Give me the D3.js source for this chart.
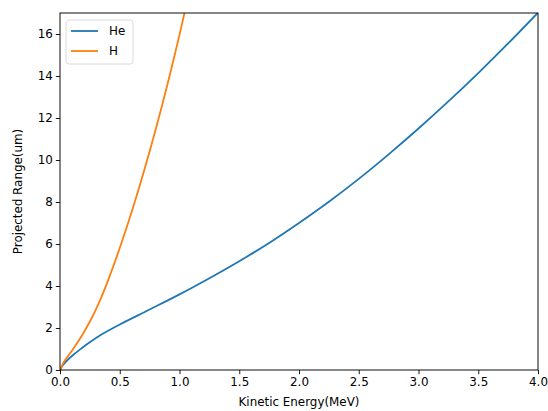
<!DOCTYPE html>
<html>
<head>
<meta charset="utf-8">
<script src="https://cdn.jsdelivr.net/npm/d3@7"></script>
<style>
  body { margin: 0; background: #fff; }
  svg { font-family: "DejaVu Sans", sans-serif; }
</style>
</head>
<body>
<div id="chart"></div>
<script>
// He curve (energy in MeV, projected range in um)
const heEnergy = [0, 0.02, 0.04, 0.08, 0.126, 0.18, 0.237, 0.35, 0.5, 0.75, 1.0, 1.25, 1.5, 1.75, 2.0, 2.25, 2.5, 2.75, 3.0, 3.25, 3.5, 3.75, 4.0];
const heRange  = [0, 0.2, 0.33, 0.57, 0.79, 1.03, 1.27, 1.7, 2.17, 2.88, 3.6, 4.37, 5.18, 6.05, 7.0, 8.01, 9.1, 10.27, 11.5, 12.79, 14.14, 15.55, 17.02];

// H curve
const hEnergy = [0, 0.04, 0.1, 0.15, 0.2, 0.25, 0.3, 0.35, 0.4, 0.5, 0.6, 0.7, 0.8, 0.9, 1.0, 1.05, 1.1];
const hRange  = [0, 0.45, 0.92, 1.34, 1.8, 2.31, 2.88, 3.52, 4.23, 5.81, 7.54, 9.42, 11.44, 13.62, 15.96, 17.21, 18.46];

const xTicks = [0, 0.5, 1.0, 1.5, 2.0, 2.5, 3.0, 3.5, 4.0];
const yTicks = [0, 2, 4, 6, 8, 10, 12, 14, 16];

const width = 548;
const height = 411;
const margin = { top: 13, right: 10, bottom: 41, left: 60 };

const svg = d3.select('#chart')
    .append('svg')
    .attr('width', width)
    .attr('height', height);

const x = d3.scaleLinear()
    .domain([0, 4])
    .range([margin.left, width - margin.right]);

const y = d3.scaleLinear()
    .domain([0, 17])
    .range([height - margin.bottom, margin.top]);

svg.append('clipPath')
    .attr('id', 'plot-clip')
    .append('rect')
    .attr('x', margin.left)
    .attr('y', margin.top)
    .attr('width', width - margin.left - margin.right)
    .attr('height', height - margin.top - margin.bottom);

const series = [
    { name: 'He', color: '#1f77b4', xs: heEnergy, ys: heRange },
    { name: 'H', color: '#ff7f0e', xs: hEnergy, ys: hRange }
];

const line = d3.line()
    .x(d => x(d[0]))
    .y(d => y(d[1]))
    .curve(d3.curveCatmullRom.alpha(0.5));

svg.append('g')
    .attr('clip-path', 'url(#plot-clip)')
    .selectAll('path')
    .data(series)
    .join('path')
    .attr('fill', 'none')
    .attr('stroke', d => d.color)
    .attr('stroke-width', 1.8)
    .attr('d', d => line(d.xs.map((v, i) => [v, d.ys[i]])));

function xAxis(g) {
    g.attr('transform', `translate(0,${height - margin.bottom})`)
        .call(d3.axisBottom(x).tickValues(xTicks).tickFormat(d3.format('.1f')).tickSize(4.2).tickPadding(3))
        .attr('font-size', '11.9px')
        .attr('font-family', '"DejaVu Sans", sans-serif');
    g.select('.domain').remove();
    g.selectAll('.tick line').attr('stroke', '#000').attr('stroke-width', 0.9);
    g.selectAll('.tick text').attr('fill', '#000');
}

function yAxis(g) {
    g.attr('transform', `translate(${margin.left},0)`)
        .call(d3.axisLeft(y).tickValues(yTicks).tickFormat(d3.format('d')).tickSize(4.2).tickPadding(3))
        .attr('font-size', '11.9px')
        .attr('font-family', '"DejaVu Sans", sans-serif');
    g.select('.domain').remove();
    g.selectAll('.tick line').attr('stroke', '#000').attr('stroke-width', 0.9);
    g.selectAll('.tick text').attr('fill', '#000');
}

svg.append('g').call(xAxis);
svg.append('g').call(yAxis);

// axes frame
svg.append('rect')
    .attr('x', margin.left)
    .attr('y', margin.top)
    .attr('width', width - margin.left - margin.right)
    .attr('height', height - margin.top - margin.bottom)
    .attr('fill', 'none')
    .attr('stroke', '#000')
    .attr('stroke-width', 0.95);

svg.append('text')
    .attr('x', (margin.left + width - margin.right) / 2)
    .attr('y', 406)
    .attr('text-anchor', 'middle')
    .attr('font-size', '11.9px')
    .text('Kinetic Energy(MeV)');

svg.append('text')
    .attr('transform', `translate(22,${(margin.top + height - margin.bottom) / 2}) rotate(-90)`)
    .attr('text-anchor', 'middle')
    .attr('font-size', '11.9px')
    .text('Projected Range(um)');

// legend
const legend = svg.append('g').attr('transform', `translate(${margin.left + 6},${margin.top + 7})`);
legend.append('rect')
    .attr('width', 67)
    .attr('height', 44)
    .attr('rx', 3)
    .attr('fill', '#fff')
    .attr('fill-opacity', 0.8)
    .attr('stroke', '#d6d6d6')
    .attr('stroke-width', 0.9);

const item = legend.selectAll('g.item')
    .data(series)
    .join('g')
    .attr('class', 'item')
    .attr('transform', (d, i) => `translate(0,${11 + i * 20})`);

item.append('line')
    .attr('x1', 5).attr('x2', 32)
    .attr('stroke', d => d.color)
    .attr('stroke-width', 1.8);

item.append('text')
    .attr('x', 43)
    .attr('dy', '0.35em')
    .attr('font-size', '11.9px')
    .text(d => d.name);
</script>
</body>
</html>
